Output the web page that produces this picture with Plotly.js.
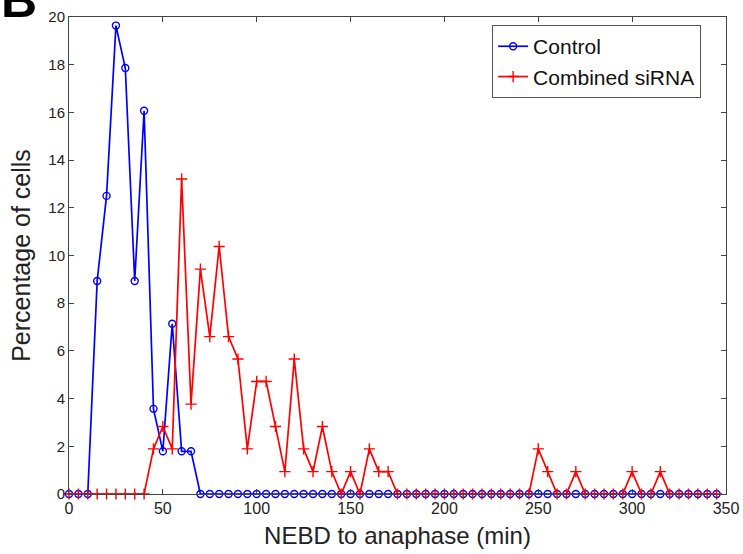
<!DOCTYPE html>
<html>
<head>
<meta charset="utf-8">
<script src="https://cdn.plot.ly/plotly-3.0.1.min.js"></script>
<style>html,body{margin:0;padding:0;background:#fff;}#plot{width:743px;height:554px;}</style>
</head>
<body>
<div id="plot"></div>
<script>
// Time bins (min): 0, 5, ..., 345
const timeBins = [0,5,10,15,20,25,30,35,40,45,50,55,60,65,70,75,80,85,90,95,100,105,110,115,120,125,130,135,140,145,150,155,160,165,170,175,180,185,190,195,200,205,210,215,220,225,230,235,240,245,250,255,260,265,270,275,280,285,290,295,300,305,310,315,320,325,330,335,340,345];

// Percentage of cells, Control
const controlPct = [0,0,0,8.93,12.5,19.64,17.86,8.93,16.07,3.57,1.79,7.14,1.79,1.79,0,0,0,0,0,0,0,0,0,0,0,0,0,0,0,0,0,0,0,0,0,0,0,0,0,0,0,0,0,0,0,0,0,0,0,0,0,0,0,0,0,0,0,0,0,0,0,0,0,0,0,0,0,0,0,0];

// Percentage of cells, Combined siRNA
const sirnaPct = [0,0,0,0,0,0,0,0,0,1.89,2.83,1.89,13.21,3.77,9.43,6.60,10.38,6.60,5.66,1.89,4.72,4.72,2.83,0.94,5.66,1.89,0.94,2.83,0.94,0,0.94,0,1.89,0.94,0.94,0,0,0,0,0,0,0,0,0,0,0,0,0,0,0,1.89,0.94,0,0,0.94,0,0,0,0,0,0.94,0,0,0.94,0,0,0,0,0,0];

const xTicks = [0,50,100,150,200,250,300,350];
const yTicks = [0,2,4,6,8,10,12,14,16,18,20];

const FONT = 'Liberation Sans, Arial, sans-serif';

const traces = [
  {
    x: timeBins, y: controlPct, name: 'Control', type: 'scatter', mode: 'lines+markers',
    line: {color: '#0000ff', width: 1.7},
    marker: {symbol: 'circle-open', size: 7, color: '#0000ff', line: {width: 1.4}},
    cliponaxis: false
  },
  {
    x: timeBins, y: sirnaPct, name: 'Combined siRNA', type: 'scatter', mode: 'lines+markers',
    line: {color: '#ff0000', width: 1.7},
    marker: {symbol: 'cross-thin-open', size: 8, color: '#ff0000', line: {width: 1.4, color: '#ff0000'}},
    cliponaxis: false
  }
];

const axisCommon = {
  showgrid: false, zeroline: false, showline: true, linecolor: '#444', linewidth: 1,
  mirror: 'ticks', ticks: 'inside', ticklen: 5, tickcolor: '#444'
};

const layout = {
  width: 743, height: 554,
  margin: {l: 69, r: 17, t: 17, b: 60},
  paper_bgcolor: '#fff', plot_bgcolor: '#fff',
  showlegend: true,
  legend: {
    x: 0.644, y: 0.983, xanchor: 'left', yanchor: 'top',
    bgcolor: '#fff', bordercolor: '#555', borderwidth: 1,
    font: {family: FONT, size: 21, color: '#111'},
    tracegroupgap: 0
  },
  xaxis: Object.assign({}, axisCommon, {
    range: [0, 350], tickvals: xTicks, ticktext: xTicks.map(String),
    tickfont: {family: FONT, size: 16, color: '#222'},
    title: {text: 'NEBD to anaphase (min)', standoff: 10,
      font: {family: FONT, size: 24, color: '#222'}}
  }),
  yaxis: Object.assign({}, axisCommon, {
    range: [0, 20], tickvals: yTicks, ticktext: yTicks.map(String),
    tickfont: {family: FONT, size: 15, color: '#222'},
    title: {text: 'Percentage of cells', standoff: 10,
      font: {family: FONT, size: 25, color: '#222'}}
  }),
  annotations: [{
    text: '<b>B</b>', xref: 'paper', yref: 'paper', x: -0.046, y: 1.036,
    xanchor: 'right', yanchor: 'middle', showarrow: false,
    font: {family: FONT, size: 50, color: '#000'}
  }]
};

Plotly.newPlot('plot', traces, layout, {displayModeBar: false, staticPlot: true});
</script>
</body>
</html>
